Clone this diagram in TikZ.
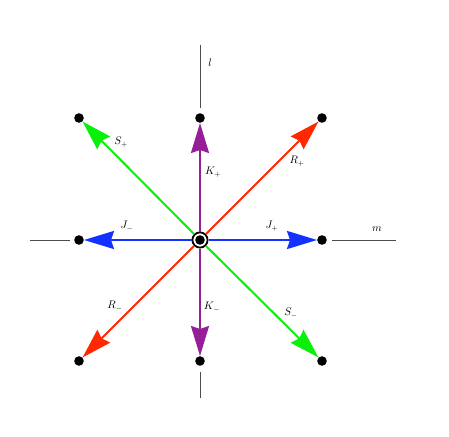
\documentclass[tikz,border=0pt]{standalone}
\usetikzlibrary{arrows.meta}
\definecolor{gengreen}{RGB}{10,240,10}
\definecolor{genred}{RGB}{255,40,0}
\definecolor{genblue}{RGB}{20,50,255}
\definecolor{genpurple}{RGB}{150,30,150}
\begin{document}
\begin{tikzpicture}[x=1pt,y=-1pt,
  dot/.style={circle,fill=black,inner sep=0pt,minimum size=9.6pt},
  axisline/.style={draw=black!70,line width=0.8pt},
  gen/.style={line width=2pt,-{Stealth[length=30pt,width=18pt,inset=3pt]}},
  lab/.style={font=\fontsize{10.5}{12}\selectfont,inner sep=0pt}]
\useasboundingbox (0,0) rectangle (449,436);
% center
\node[dot] (c) at (200,240) {};
\node[circle,draw,line width=1.8pt,minimum size=15.2pt,inner sep=0pt] (ring) at (200,240) {};
% weight dots
\node[dot] (nw) at (79,118) {};
\node[dot] (n)  at (200,118) {};
\node[dot] (ne) at (322,118) {};
\node[dot] (w)  at (79,240) {};
\node[dot] (e)  at (322,240) {};
\node[dot] (sw) at (79,361) {};
\node[dot] (s)  at (200,361) {};
\node[dot] (se) at (322,361) {};
% axes
\coordinate (ltop) at (200,45);
\coordinate (lbot) at (200,398);
\coordinate (mleft) at (30,240);
\coordinate (mright) at (396,240);
\draw[axisline,shorten >=5pt] (ltop) -- (n);
\draw[axisline,shorten >=6pt] (lbot) -- (s);
\draw[axisline,shorten >=4pt] (mleft) -- (w);
\draw[axisline,shorten >=5pt] (mright) -- (e);
\node[lab] (ll) at (210,63) {$l$};
\node[lab] (ml) at (377,229) {$m$};
% generators
\draw[gen,gengreen] (ring) -- (nw);
\draw[gen,gengreen] (ring) -- (se);
\draw[gen,genred] (ring) -- (ne);
\draw[gen,genred] (ring) -- (sw);
\draw[gen,genblue] (ring) -- (e);
\draw[gen,genblue] (ring) -- (w);
\draw[gen,genpurple] (ring) -- (n);
\draw[gen,genpurple] (ring) -- (s);
% labels
\node[lab] (sp) at (121,142) {$S_+$};
\node[lab] (rp) at (297,161) {$R_+$};
\node[lab] (kp) at (213,172) {$K_+$};
\node[lab] (jp) at (272,226) {$J_+$};
\node[lab] (jm) at (127,226) {$J_-$};
\node[lab] (rm) at (115,306) {$R_-$};
\node[lab] (km) at (212,307) {$K_-$};
\node[lab] (sm) at (291,313) {$S_-$};
\end{tikzpicture}
\end{document}
